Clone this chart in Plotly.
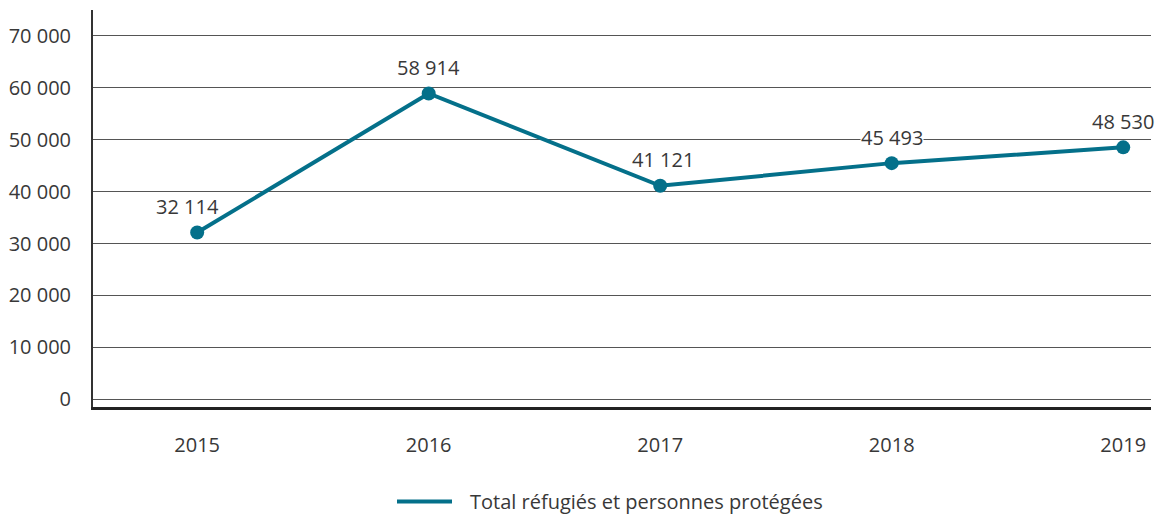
import plotly.graph_objects as go

years = ["2015", "2016", "2017", "2018", "2019"]
values = [32114, 58914, 41121, 45493, 48530]
value_labels = ["32 114", "58 914", "41 121", "45 493", "48 530"]
label_xshift = [-10, 0, 3, 0, 0]
label_bg = ["rgba(0,0,0,0)", "rgba(0,0,0,0)", "rgba(0,0,0,0)", "white", "rgba(0,0,0,0)"]
series_name = "Total réfugiés et personnes protégées"
y_ticks = [0, 10000, 20000, 30000, 40000, 50000, 60000, 70000]
y_tick_labels = ["0", "10 000", "20 000", "30 000", "40 000", "50 000", "60 000", "70 000"]

LINE = "#04708a"
TXT = "#383838"
FONT = "Open Sans"

xs = list(range(len(years)))

W, H = 1160, 516
ML, MR, MT, MB = 93, 9, 10, 109
plot_w = W - ML - MR

fig = go.Figure()
fig.add_trace(go.Scatter(
    x=xs, y=values, mode="lines+markers",
    line=dict(color=LINE, width=4),
    marker=dict(color=LINE, size=14),
    showlegend=False, hoverinfo="skip",
))

annotations = []
for x, v, t, dx, bg in zip(xs, values, value_labels, label_xshift, label_bg):
    annotations.append(dict(
        x=x, y=v, xref="x", yref="y", text=t, showarrow=False,
        yshift=26, xshift=dx, bgcolor=bg, borderpad=0,
        font=dict(family=FONT, size=20, color=TXT),
    ))

# legend (line sample + text)
annotations.append(dict(
    x=(468 - ML) / plot_w, y=-0.238, xref="paper", yref="paper", text=series_name,
    showarrow=False, xanchor="left", yanchor="middle",
    font=dict(family=FONT, size=20, color=TXT),
))

fig.update_layout(
    width=W, height=H,
    margin=dict(l=ML, r=MR, t=MT, b=MB, autoexpand=False),
    paper_bgcolor="white", plot_bgcolor="white",
    font=dict(family=FONT, size=20, color=TXT),
    annotations=annotations,
    xaxis=dict(
        range=[-0.45, 4.12], tickmode="array", tickvals=xs, ticktext=years,
        showgrid=False, zeroline=False, showline=True, linecolor="#222222",
        linewidth=3, ticks="", ticklabelstandoff=18,
        tickfont=dict(family=FONT, size=20, color=TXT),
    ),
    yaxis=dict(
        range=[-1500, 75000], tickmode="array", tickvals=y_ticks, ticktext=y_tick_labels,
        showgrid=True, gridcolor="#555555", gridwidth=1, zeroline=False,
        showline=True, linecolor="#333333", linewidth=2, ticks="",
        ticklabelstandoff=16,
        tickfont=dict(family=FONT, size=20, color=TXT),
    ),
)

fig.add_shape(type="line", xref="paper", yref="paper",
              x0=(397 - ML) / plot_w, x1=(452 - ML) / plot_w, y0=-0.238, y1=-0.238,
              line=dict(color=LINE, width=4))

fig.write_html(
    "out.html",
    config={"displayModeBar": False},
    post_script="document.body.style.margin='0';document.body.style.overflow='hidden';",
)
